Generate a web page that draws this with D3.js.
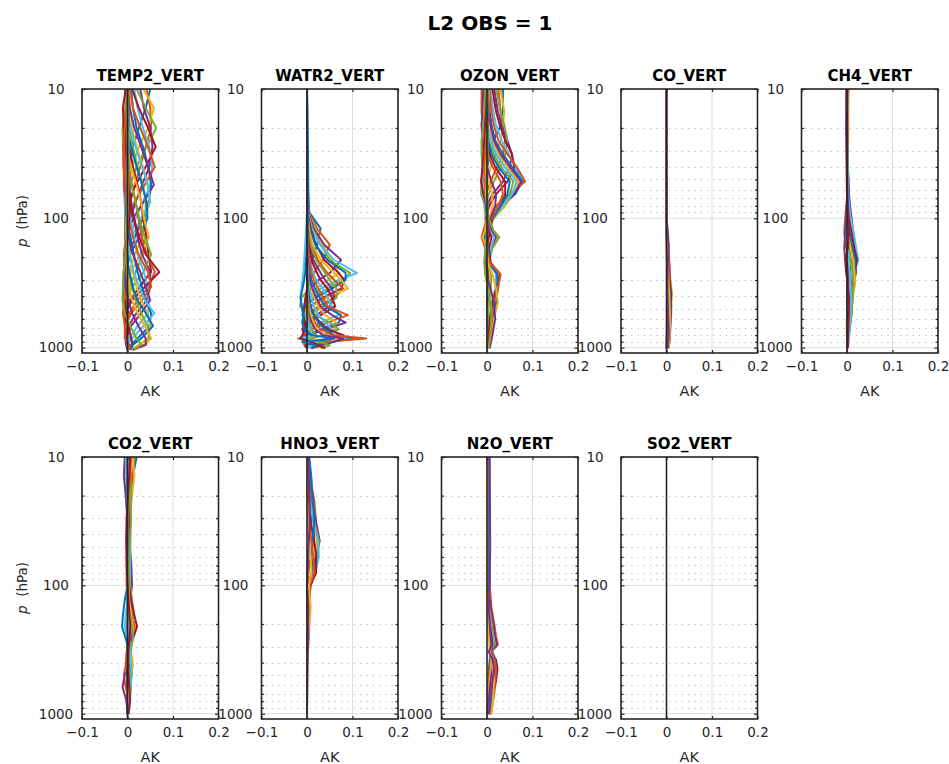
<!DOCTYPE html>
<html><head><meta charset="utf-8">
<script src="https://cdn.jsdelivr.net/npm/d3@7"></script>
<style>
body{margin:0;background:#fff;}
svg{display:block;font-family:"DejaVu Sans",sans-serif;}
</style>
</head><body>
<svg id="c" width="949" height="764"></svg>
<script>
// ---------- chart text / ticks ----------
const mainTitle = "L2 OBS = 1";
const panelNames = ["TEMP2_VERT","WATR2_VERT","OZON_VERT","CO_VERT","CH4_VERT","CO2_VERT","HNO3_VERT","N2O_VERT","SO2_VERT"];
const xTicks = [-0.1, 0, 0.1, 0.2];
const xTickLabels = ["\u22120.1","0","0.1","0.2"];
const yTicks = [10, 100, 1000];
const yMinorTicks = [20,30,40,50,60,70,80,90,200,300,400,500,600,700,800,900];
const xLabel = "AK";
const colorOrder = ["#0072BD","#D95319","#EDB120","#7E2F8E","#77AC30","#4DBEEE","#A2142F"];

// ---------- data: pressure levels (hPa) and kernel values per panel ----------
const tempLevels = [10,14,20,28,40,55,75,100,140,190,260,340,430,540,680,850,950,1040];
const tempKernels = [
 [0.050,0.040,0.025,0.012,0.005,0.001,-0.002,-0.003,-0.002,-0.001,0.000,0.001,0.001,0.000,0.000,0.000,0.000,0.000],
 [0.042,0.050,0.052,0.040,0.028,0.016,0.006,0.000,-0.004,-0.004,-0.002,0,0.001,0.001,0,0,0,0],
 [0.035,0.058,0.045,0.025,0.010,0.002,-0.004,-0.004,-0.002,0.000,0.001,0.001,0.000,0.000,0.000,0.000,0.000,0.000],
 [0.028,0.036,0.050,0.055,0.048,0.032,0.018,0.006,-0.002,-0.005,-0.004,-0.001,0.001,0.001,0,0,0,0],
 [0.020,0.040,0.063,0.042,0.020,0.006,-0.003,-0.005,-0.003,-0.001,0.001,0.002,0.001,0.000,0.000,0.000,0.000,0.000],
 [0.015,0.022,0.034,0.048,0.054,0.050,0.034,0.018,0.006,-0.002,-0.005,-0.003,0,0.001,0,0,0,0],
 [0.010,0.025,0.045,0.062,0.040,0.018,0.003,-0.004,-0.004,-0.002,0.000,0.002,0.001,0.000,0.000,0.000,0.000,0.000],
 [0.008,0.012,0.020,0.034,0.046,0.052,0.046,0.034,0.016,0.004,-0.003,-0.005,-0.002,0,0,0,0,0],
 [0.005,0.012,0.028,0.045,0.060,0.038,0.015,0.000,-0.005,-0.003,0.000,0.001,0.001,0.000,0.000,0.000,0.000,0.000],
 [0.003,0.006,0.010,0.020,0.034,0.044,0.048,0.040,0.032,0.016,0.004,-0.003,-0.004,-0.002,0,0,0,0],
 [0.000,0.005,0.015,0.030,0.045,0.058,0.035,0.012,-0.002,-0.006,-0.002,0.001,0.002,0.001,0.000,0.000,0.000,0.000],
 [0.000,0.000,0.004,0.012,0.022,0.034,0.040,0.040,0.040,0.034,0.018,0.004,-0.004,-0.004,-0.001,0,0,0],
 [-0.003,0.000,0.006,0.018,0.032,0.045,0.050,0.030,0.010,-0.003,-0.006,-0.002,0.001,0.001,0.000,0.000,0.000,0.000],
 [-0.002,-0.004,-0.002,0.004,0.012,0.022,0.030,0.034,0.042,0.046,0.052,0.026,0.006,-0.004,-0.004,-0.001,0,0],
 [-0.005,-0.006,-0.002,0.008,0.020,0.032,0.042,0.044,0.025,0.006,-0.004,-0.005,-0.001,0.001,0.001,0.000,0.000,0.000],
 [0,-0.002,-0.006,-0.004,0.002,0.010,0.018,0.024,0.032,0.042,0.060,0.046,0.022,0.004,-0.004,-0.004,-0.001,0],
 [-0.002,-0.008,-0.010,-0.004,0.008,0.020,0.030,0.036,0.047,0.028,0.008,-0.004,-0.006,-0.002,0.000,0.000,0.000,0.000],
 [0.001,0.001,-0.002,-0.006,-0.004,0.002,0.008,0.014,0.022,0.032,0.050,0.050,0.042,0.020,0.002,-0.004,-0.002,0],
 [0.000,-0.004,-0.011,-0.010,-0.002,0.008,0.018,0.026,0.038,0.052,0.035,0.010,-0.004,-0.005,-0.002,0.000,0.000,0.000],
 [0.002,0.002,0.001,-0.002,-0.005,-0.004,0.000,0.006,0.014,0.022,0.036,0.044,0.046,0.046,0.022,0.004,-0.002,0.001],
 [0.001,0.000,-0.005,-0.009,-0.009,-0.004,0.004,0.014,0.026,0.040,0.070,0.038,0.010,-0.004,-0.005,-0.002,0.000,0.000],
 [0.001,0.002,0.002,0.000,-0.002,-0.004,-0.004,-0.002,0.006,0.014,0.022,0.032,0.040,0.052,0.048,0.022,0.008,0.004],
 [0.002,0.002,0.000,-0.004,-0.008,-0.008,-0.005,0.002,0.012,0.024,0.045,0.052,0.032,0.008,-0.004,-0.005,-0.002,0.000],
 [0,0.001,0.002,0.002,0.000,-0.002,-0.004,-0.004,-0.002,0.006,0.012,0.020,0.030,0.044,0.050,0.045,0.025,0.008],
 [0.001,0.002,0.002,0.000,-0.003,-0.006,-0.006,-0.004,0.002,0.012,0.028,0.040,0.050,0.030,0.008,-0.004,-0.003,0.000],
 [0,0,0.001,0.002,0.002,0,-0.002,-0.004,-0.006,-0.004,0.002,0.010,0.018,0.030,0.044,0.048,0.040,0.010],
 [0.000,0.001,0.002,0.002,0.000,-0.003,-0.005,-0.005,-0.002,0.004,0.014,0.026,0.038,0.059,0.035,0.010,0.000,0.002],
 [-0.004,-0.010,-0.008,-0.004,0,0.004,0.006,0.004,0.000,-0.006,-0.008,-0.010,-0.006,-0.002,0.002,0.008,0.012,0.006],
 [0.000,0.000,0.001,0.002,0.002,0.000,-0.003,-0.004,-0.005,-0.002,0.004,0.012,0.022,0.040,0.056,0.030,0.012,0.005],
 [0.002,-0.002,-0.006,-0.008,-0.006,-0.004,-0.002,-0.002,-0.004,-0.008,-0.006,-0.002,-0.008,-0.010,-0.006,-0.006,0.004,0.004],
 [0.000,0.000,0.000,0.001,0.002,0.002,0.000,-0.002,-0.004,-0.004,-0.002,0.004,0.010,0.022,0.038,0.052,0.035,0.010],
 [0.000,0.000,0.000,0.000,0.001,0.002,0.001,0.000,-0.002,-0.004,-0.006,-0.004,0.002,0.010,0.024,0.040,0.040,0.012],
 [0.000,0.000,0.000,0.000,0.000,0.001,0.001,0.000,-0.001,-0.003,-0.009,-0.010,-0.011,-0.006,0.006,0.020,0.030,0.015]
];

const watrLevels = [10,30,60,90,120,160,210,265,300,350,410,480,560,640,720,800,850,900,960,1010];
const watrKernels = [
 [0,0.001,0.002,0.005,0.030,0.022,0.012,0.005,0.002,0,-0.002,-0.002,0,0,0,0,0,0,0,0],
 [0,0.001,0.002,0.004,0.022,0.050,0.035,0.015,0.006,0.001,-0.003,-0.004,-0.002,0,0,0,0,0,0,0],
 [0,0,0.001,0.003,0.018,0.035,0.055,0.070,0.045,0.020,0.004,-0.006,-0.005,-0.001,0,0,0,0,0,0],
 [0,0.000,0.001,0.003,0.015,0.038,0.075,0.050,0.025,0.008,-0.002,-0.006,-0.004,-0.001,0,0,0,0,0,0],
 [0,0,0,0.002,0.012,0.030,0.050,0.095,0.080,0.045,0.012,-0.004,-0.008,-0.004,0,0,0,0,0,0],
 [0,0,0.001,0.002,0.010,0.028,0.060,0.110,0.070,0.030,0.005,-0.008,-0.006,-0.002,0,0,0,0,0,0],
 [0,0,0,0.001,0.008,0.020,0.038,0.070,0.082,0.075,0.035,0.008,-0.006,-0.008,-0.003,0,0,0,0,0],
 [0,0,0,0.001,0.006,0.018,0.045,0.085,0.085,0.055,0.020,-0.005,-0.010,-0.005,-0.001,0,0,0,0,0],
 [0,0,0,0,0.004,0.010,0.024,0.045,0.060,0.080,0.060,0.025,0.000,-0.008,-0.006,-0.001,0,0,0,0],
 [0,0,0,0.001,0.004,0.012,0.030,0.060,0.075,0.090,0.045,0.010,-0.008,-0.010,-0.004,0,0,0,0,0],
 [0,0,0,0,0.002,0.006,0.014,0.030,0.040,0.055,0.060,0.050,0.020,-0.004,-0.010,-0.004,0,0,0,0],
 [0,0,0,0,0.002,0.008,0.020,0.040,0.050,0.065,0.065,0.035,0.005,-0.010,-0.008,-0.002,0,0,0,0],
 [0,0,0,0,0,0.002,0.006,0.014,0.020,0.035,0.045,0.055,0.070,0.030,0.000,-0.008,-0.006,-0.002,0,0],
 [0,0,0,0,0.001,0.004,0.010,0.022,0.030,0.045,0.055,0.062,0.030,0.002,-0.010,-0.006,-0.002,0,0,0],
 [0,0,0,0,0,0,0.002,0.006,0.010,0.018,0.028,0.040,0.075,0.070,0.030,0.002,-0.008,-0.006,-0.002,0],
 [0,0,0,0,0,0.002,0.005,0.010,0.015,0.025,0.035,0.045,0.090,0.045,0.010,-0.008,-0.010,-0.004,0,0],
 [0,0,0,0,0,0,0.001,0.003,0.005,0.010,0.016,0.025,0.040,0.065,0.060,0.040,0.010,0.000,-0.004,0],
 [0,0,0,0,0,0.001,0.002,0.004,0.006,0.012,0.020,0.030,0.055,0.085,0.040,0.008,-0.006,-0.010,-0.004,0],
 [0,0,0,0,0,0,0,0.002,0.003,0.006,-0.012,-0.015,0.020,0.050,0.070,0.035,0.008,-0.008,-0.006,0],
 [0,0,0,0,0,0,0,0.001,0.002,0.005,0.010,0.015,0.025,0.040,0.055,0.070,0.100,0.030,0.006,0.002],
 [0,0,0,0,0,0,0,0,0.001,0.002,0.004,0.008,0.015,0.030,0.045,0.080,0.050,0.015,-0.004,0.000],
 [0,0,0,0,0,0,0,0,0.001,0.002,0.004,0.008,0.015,0.025,0.040,0.060,0.110,0.050,0.020,0.008],
 [0,0,0,0,0,0,0,0,0,0.001,0.002,0.004,0.008,0.018,0.030,0.055,0.130,0.040,0.010,0.005],
 [0,0,0,0,0,0,0,0,0,0,0.002,0.004,0.008,0.014,0.022,0.040,0.070,0.055,0.040,0.020],
 [0,0,0,0,0,0,0,0,0,0,0.001,0.002,0.004,0.010,0.018,0.035,0.080,0.060,0.030,0.010],
 [0,0,0,0,0,0,0,0,0,0,0,0.001,0.002,0.005,0.010,0.020,-0.020,0.030,0.050,0.030],
 [0,0.001,0.001,0.000,-0.002,-0.004,-0.006,-0.008,-0.010,-0.012,-0.015,-0.010,-0.004,0.002,0.006,0.012,-0.012,0.020,0.010,0.005],
 [0,0,0,0,0,0,0,0,0,0,-0.003,-0.006,-0.008,-0.006,-0.004,-0.010,-0.015,0.010,0.025,0.040],
 [0,0.002,0.003,0.002,0.001,0,-0.002,-0.004,-0.006,-0.010,-0.014,-0.012,-0.008,-0.010,-0.006,0.010,0.060,-0.010,0.020,0.015]
];

const ozonLevels = [10,15,19,25,32,40,52,65,80,100,125,140,170,220,270,350,450,600,800,1010];
const ozonKernels = [
 [0.035,0.035,0.030,0.015,0.006,0.001,-0.003,-0.005,-0.002,0,0.002,0.001,0,0,0,0,0,0,0,0],
 [0.025,0.030,0.034,0.040,0.035,0.022,0.008,-0.002,-0.005,-0.002,0.001,0.002,0.001,0,0,0,0,0,0,0],
 [0.030,0.038,0.035,0.030,0.018,0.008,0.000,-0.006,-0.006,-0.002,0.001,0.002,0,0,0,0,0,0,0,0],
 [0.016,0.024,0.032,0.045,0.055,0.050,0.035,0.012,0.000,-0.003,-0.002,0.001,0.001,0.001,0,0,0,0,0,0],
 [0.020,0.030,0.038,0.045,0.040,0.030,0.015,0.004,-0.004,-0.003,0.000,0.002,0.001,0,0,0,0,0,0,0],
 [0.008,0.014,0.020,0.032,0.048,0.062,0.080,0.055,0.025,0.006,-0.003,-0.003,0.000,0.002,0.001,0,0,0,0,0],
 [0.012,0.020,0.028,0.040,0.055,0.060,0.045,0.020,0.005,-0.002,-0.003,0.000,0.001,0.001,0,0,0,0,0,0],
 [0.002,0.006,0.010,0.018,0.035,0.055,0.078,0.062,0.035,0.012,0.000,-0.004,-0.001,0.002,0.002,0,0,0,0,0],
 [0.005,0.010,0.015,0.025,0.045,0.065,0.084,0.050,0.020,0.003,-0.004,-0.002,0.001,0.002,0.001,0,0,0,0,0],
 [-0.002,0.002,0.005,0.012,0.025,0.044,0.070,0.058,0.040,0.015,0.002,-0.004,-0.003,0.001,0.002,0.001,0,0,0,0],
 [0.000,0.004,0.008,0.015,0.030,0.050,0.075,0.060,0.030,0.008,-0.002,-0.004,0.000,0.002,0.001,0,0,0,0,0],
 [-0.008,-0.005,-0.001,0.005,0.015,0.030,0.058,0.050,0.035,0.014,0.004,-0.002,-0.003,0.000,0.002,0.002,0,0,0,0],
 [-0.005,-0.002,0.002,0.008,0.020,0.038,0.065,0.055,0.035,0.012,0.000,-0.005,-0.002,0.001,0.002,0.001,0,0,0,0],
 [-0.011,-0.010,-0.006,0.000,0.006,0.018,0.040,0.040,0.030,0.012,0.006,0.004,-0.002,-0.002,0.004,0.004,0.002,0.001,0,0],
 [-0.010,-0.008,-0.004,0.002,0.010,0.025,0.050,0.045,0.030,0.010,0.002,-0.003,-0.003,0.000,0.002,0.001,0,0,0,0],
 [-0.012,-0.012,-0.008,-0.004,0.002,0.012,0.030,0.035,0.025,0.010,0.004,0.000,-0.002,-0.001,0.002,0.002,0.001,0,0,0],
 [-0.006,-0.008,-0.010,-0.010,-0.008,-0.004,0.004,0.012,0.012,0.006,0.012,0.022,0.010,0.002,0.006,0.006,0.004,0.002,0.001,0.001],
 [-0.008,-0.010,-0.012,-0.010,-0.006,0.000,0.010,0.020,0.018,0.008,0.010,0.020,0.008,0.000,0.002,0.003,0.002,0.001,0,0],
 [-0.004,-0.006,-0.008,-0.012,-0.012,-0.010,-0.012,-0.013,-0.004,0.004,0.015,0.027,0.012,0.004,0.010,0.008,0.004,0.002,0.001,0.002],
 [0.000,0.000,-0.002,-0.004,-0.006,-0.008,-0.010,-0.010,-0.004,0.000,0.006,0.016,0.008,0.006,0.020,0.018,0.010,0.006,0.003,0.002],
 [0,-0.002,-0.004,-0.006,-0.008,-0.010,-0.013,-0.008,-0.002,0.002,0.004,0.010,0.004,0.008,0.028,0.020,0.012,0.006,0.004,0.003],
 [0.002,0.002,0.001,0.000,-0.002,-0.004,-0.005,-0.004,-0.002,0.000,-0.002,-0.006,0.002,0.004,0.022,0.024,0.020,0.012,0.008,0.004],
 [0.002,0.001,0.000,-0.002,-0.004,-0.006,-0.006,-0.004,0.000,0.000,-0.008,-0.012,-0.004,0.006,0.030,0.024,0.015,0.010,0.006,0.004],
 [0.003,0.003,0.002,0.001,0.000,-0.002,-0.003,-0.002,0.000,0.000,-0.004,-0.010,0.000,0.002,0.012,0.020,0.024,0.015,0.010,0.005],
 [0.001,0.002,0.002,0.002,0.001,0.000,-0.001,0.000,0.001,0.002,0.002,0.000,-0.003,-0.005,-0.002,0.008,0.015,0.018,0.012,0.006],
 [0,0,0.001,0.001,0.001,0.000,0.000,0.000,0.001,0.001,0.000,-0.002,-0.004,-0.006,-0.004,0.002,0.008,0.010,0.008,0.004]
];

const coLevels = [10,100,120,160,220,300,380,480,600,750,900,1010];
const coKernels = [
 [0,0,0.001,0.003,0.004,0.004,0.003,0.002,0.001,0.001,0,0],
 [0,0,0.001,0.004,0.006,0.007,0.006,0.004,0.002,0.001,0.001,0],
 [0,0,0.001,0.002,0.005,0.009,0.012,0.010,0.006,0.004,0.002,0.001],
 [0,0,0.000,0.002,0.006,0.008,0.009,0.007,0.005,0.003,0.002,0.001],
 [0,0,0,0.001,0.004,0.007,0.011,0.009,0.007,0.005,0.003,0.002],
 [0,0,0,0.001,0.002,0.005,0.008,0.011,0.010,0.008,0.005,0.003],
 [0,0,0,0.001,0.003,0.006,0.010,0.010,0.009,0.007,0.005,0.003],
 [0,0,0,0,0.002,0.004,0.008,0.009,0.008,0.008,0.006,0.004],
 [0,0,0.002,0.003,0.005,0.006,0.005,0.004,0.006,0.008,0.007,0.004],
 [0,0,0,0,0.001,0.003,0.006,0.007,0.008,0.007,0.006,0.005],
 [0,0,0.002,0.005,0.003,0.002,0.002,0.003,0.004,0.005,0.004,0.003]
];

const ch4Levels = [10,20,40,70,100,130,170,210,260,320,420,550,700,850,1010];
const ch4Kernels = [
 [0.003,0.002,0.001,0.002,0.004,0.003,0.002,0.001,0,0,0,0,0,0,0],
 [-0.002,-0.001,0.000,0.004,0.008,0.010,0.008,0.004,0.001,0,0,0,0,0,0],
 [0.002,0.003,0.002,0.004,0.006,0.008,0.012,0.016,0.012,0.006,0.002,0.000,-0.001,0,0],
 [0,0.001,0.002,0.005,0.010,0.014,0.016,0.012,0.006,0.002,0,0,0,0,0],
 [0,0,0.001,0.002,0.006,0.012,0.018,0.020,0.014,0.008,0.004,0.002,0.001,0,0],
 [0,0,0.001,0.003,0.008,0.015,0.020,0.025,0.015,0.008,0.003,0.001,0,0,0],
 [0,0,0,0.001,0.004,0.010,0.016,0.022,0.018,0.012,0.006,0.002,0.001,0,0],
 [0,0,0,0.001,0.002,0.006,0.012,0.018,0.020,0.015,0.010,0.006,0.003,0.001,0],
 [0,0,0,0,-0.004,-0.006,-0.002,0.010,0.018,0.016,0.010,0.005,0.002,0.001,0],
 [0,0,0,0,0,0.002,0.008,0.014,0.016,0.018,0.012,0.008,0.004,0.002,0.001],
 [-0.001,-0.002,-0.001,0.000,-0.002,-0.004,-0.006,-0.004,0.004,0.010,0.012,0.010,0.006,0.003,0.001],
 [0,0,0,0,0,0.001,0.004,0.008,0.012,0.014,0.012,0.010,0.006,0.003,0.002],
 [0,0,0,0,0,0,0.002,0.004,0.006,0.008,0.009,0.008,0.006,0.004,0.002],
 [0.001,0,0,0,0.002,0.004,0.002,-0.004,-0.002,0.002,0.004,0.004,0.003,0.002,0.002]
];

const co2Levels = [10,14,20,30,45,65,100,130,170,210,260,330,420,500,620,780,1010];
const co2Kernels = [
 [0.020,0.012,0.006,0.003,0.001,0,0,0,0,0,0,0,0,0,0,0,0],
 [0.016,0.010,0.004,0.002,0.001,0.002,0.004,0.006,0.010,0.016,0.008,0.002,0,0,0,0,0],
 [0.012,0.015,0.010,0.005,0.003,0.002,0.001,0,0,0,0,0,0,0,0,0,0],
 [-0.006,-0.008,-0.004,0.000,0.004,0.008,0.010,0.006,0.002,0,0,0,0,0,0,0,0],
 [0.004,0.006,0.008,0.006,0.003,0.004,0.006,0.010,0.014,0.010,0.004,0.001,0,0,0,0,0],
 [-0.004,-0.002,0.002,0.004,0.006,0.006,0.004,0.000,-0.004,-0.006,0.000,0.006,0.010,0.008,0.004,0.002,0.001],
 [0,0.002,0.004,0.004,0.002,0.001,0.003,0.008,0.015,0.021,0.012,0.004,0.001,0,0,0,0],
 [0,-0.002,-0.002,-0.001,0,0.001,0,-0.006,-0.010,-0.012,-0.004,0.004,0.006,0.004,0.002,0.001,0],
 [0.008,0.006,0.004,0.002,0.000,-0.002,-0.002,0.002,0.008,0.014,0.006,-0.002,-0.004,-0.008,-0.004,0.002,0.002],
 [0,0,0,0,0,0.001,0.002,0.004,0.008,0.012,0.010,0.008,0.012,0.008,0.004,0.002,0.001],
 [0,0,0,0,0,0,0.001,0.002,0.004,0.006,0.008,0.006,0.004,-0.006,-0.011,-0.003,0.001],
 [0.002,0.004,0.006,0.008,0.006,0.004,0.002,0.000,0.006,0.010,0.012,0.006,0.002,0.006,0.008,0.005,0.002],
 [0,0,0,0,0,0,0,0.001,0.002,0.003,0.004,0.006,0.008,0.010,0.006,0.004,0.003],
 [0.006,0.004,0.001,-0.002,-0.003,-0.002,0,0.002,0.004,0.006,0.004,0.002,0.001,0.002,0.004,0.006,0.002]
];

const hno3Levels = [10,15,22,32,45,60,80,100,150,250,400,1010];
const hno3Kernels = [
 [0.005,0.010,0.012,0.010,0.006,0.003,0.001,0,0,0,0,0],
 [0.002,0.008,0.016,0.020,0.015,0.008,0.003,0.001,0,0,0,0],
 [0.003,0.006,0.012,0.018,0.022,0.018,0.012,0.004,0.002,0.001,0,0],
 [0.001,0.004,0.010,0.020,0.028,0.020,0.010,0.003,0.001,0,0,0],
 [0.001,0.003,0.008,0.016,0.026,0.024,0.016,0.005,0.003,0.001,0,0],
 [0,0.002,0.006,0.014,0.024,0.026,0.018,0.006,0.002,0,0,0],
 [0,0.001,0.003,0.008,0.016,0.020,0.020,0.008,0.003,0.001,0,0],
 [0.004,0.008,0.014,0.016,0.012,0.010,0.014,0.004,0.006,0.003,0.001,0],
 [0,0,0.001,0.004,0.010,0.014,0.016,0.006,0.004,0.002,0,0],
 [0,0,0,0.002,0.005,0.008,0.010,0.004,0.008,0.004,0.001,0],
 [0.003,0.004,0.006,0.006,0.004,0.002,0.001,0.000,0.002,0.003,0.001,0]
];

const n2oLevels = [10,50,100,150,200,250,290,330,380,450,550,700,850,1010];
const n2oKernels = [
 [0.002,0.003,0.004,0.006,0.008,0.010,0.012,0.008,0.006,0.004,0.003,0.002,0.001,0],
 [0.004,0.006,0.006,0.010,0.016,0.020,0.024,0.010,0.008,0.006,0.004,0.003,0.002,0.001],
 [0.003,0.004,0.005,0.007,0.012,0.016,0.020,0.009,0.010,0.009,0.006,0.004,0.002,0.001],
 [0.001,0.002,0.003,0.008,0.014,0.018,0.022,0.006,0.014,0.012,0.008,0.005,0.003,0.002],
 [0,0.001,0.002,0.005,0.010,0.014,0.016,0.007,0.018,0.022,0.016,0.010,0.006,0.004],
 [0,0.001,0.002,0.004,0.008,0.012,0.014,0.008,0.016,0.021,0.019,0.012,0.008,0.005],
 [0,0,0.001,0.003,0.006,0.010,0.012,0.008,0.020,0.023,0.020,0.014,0.010,0.006],
 [0.001,0.002,0.002,0.003,0.005,0.008,0.010,0.012,0.018,0.020,0.014,0.012,0.010,0.007],
 [0,0,0,0.002,0.004,0.006,0.008,0.010,0.016,0.020,0.018,0.016,0.012,0.008],
 [0,0,0,0.001,0.002,0.004,0.005,0.006,0.010,0.014,0.015,0.014,0.012,0.010],
 [0.006,0.007,0.006,0.004,0.006,0.008,0.010,0.004,0.012,0.016,0.012,0.008,0.006,0.004]
];

const so2Levels = [10,1010];
const so2Kernels = [];

// ---------- build ----------
const panelData = [
 {levels: tempLevels, kernels: tempKernels},
 {levels: watrLevels, kernels: watrKernels},
 {levels: ozonLevels, kernels: ozonKernels},
 {levels: coLevels, kernels: coKernels},
 {levels: ch4Levels, kernels: ch4Kernels},
 {levels: co2Levels, kernels: co2Kernels},
 {levels: hno3Levels, kernels: hno3Kernels},
 {levels: n2oLevels, kernels: n2oKernels},
 {levels: so2Levels, kernels: so2Kernels}
];

const svg = d3.select("#c");
const ink = "#262626";
const colLefts = [82, 261.5, 441.5, 621, 801.5];
const panelW = 136.5;
const rowTops = [89, 457];
const rowBottoms = [353, 719];

svg.append("text").attr("x", 490).attr("y", 30).attr("text-anchor","middle")
  .attr("font-size", 20).attr("font-weight","bold").attr("fill", "#000").text(mainTitle);

panelNames.forEach((name, i) => {
  const row = Math.floor(i / 5), col = i % 5;
  const L = colLefts[col], R = L + panelW, T = rowTops[row], B = rowBottoms[row];
  const x = d3.scaleLinear().domain([-0.1, 0.2]).range([L, R]);
  const y = d3.scaleLog().domain([10, 1100]).range([T, B]);
  const g = svg.append("g");

  const clipId = "clip" + i;
  svg.append("clipPath").attr("id", clipId).append("rect")
    .attr("x", L).attr("y", T).attr("width", R - L).attr("height", B - T);

  // grid
  g.selectAll(".ymaj").data(yTicks).join("line")
    .attr("x1", L).attr("x2", R).attr("y1", d => y(d)).attr("y2", d => y(d))
    .attr("stroke", "#dedede").attr("stroke-width", 1);
  g.selectAll(".ymin").data(yMinorTicks).join("line")
    .attr("x1", L + 4).attr("x2", R - 2).attr("y1", d => Math.round(y(d)) + 0.5).attr("y2", d => Math.round(y(d)) + 0.5)
    .attr("stroke", "#b8b8b8").attr("stroke-width", 1.1).attr("stroke-dasharray", "1.2,5.1");
  g.selectAll(".xmaj").data(xTicks).join("line")
    .attr("x1", d => x(d)).attr("x2", d => x(d)).attr("y1", T).attr("y2", B)
    .attr("stroke", "#dedede").attr("stroke-width", 1);

  // kernel lines
  const pd = panelData[i];
  const line = d3.line().x(v => x(v[0])).y(v => y(v[1]));
  g.append("g").attr("clip-path", `url(#${clipId})`)
    .selectAll("path").data(pd.kernels).join("path")
    .attr("d", k => line(k.map((v, j) => [v, pd.levels[j]])))
    .attr("fill", "none")
    .attr("stroke", (k, j) => colorOrder[j % colorOrder.length])
    .attr("stroke-width", 2).attr("stroke-linejoin", "round");

  // zero line
  g.append("line").attr("x1", x(0)).attr("x2", x(0)).attr("y1", T).attr("y2", B)
    .attr("stroke", ink).attr("stroke-width", 1.6);

  // axes with inward ticks
  const axB = g.append("g").attr("transform", `translate(0,${B})`)
    .call(d3.axisBottom(x).tickValues(xTicks).tickSize(-3).tickPadding(8).tickFormat((d, j) => xTickLabels[j]));
  const axT = g.append("g").attr("transform", `translate(0,${T})`)
    .call(d3.axisTop(x).tickValues(xTicks).tickSize(-3).tickFormat(""));
  const axL = g.append("g").attr("transform", `translate(${L},0)`)
    .call(d3.axisLeft(y).tickValues(yTicks).tickSize(-3.5).tickPadding(14).tickFormat(d3.format("d")));
  const axR = g.append("g").attr("transform", `translate(${R},0)`)
    .call(d3.axisRight(y).tickValues(yTicks).tickSize(-3.5).tickFormat(""));
  const axLm = g.append("g").attr("transform", `translate(${L},0)`)
    .call(d3.axisLeft(y).tickValues(yMinorTicks).tickSize(-2.5).tickFormat(""));
  const axRm = g.append("g").attr("transform", `translate(${R},0)`)
    .call(d3.axisRight(y).tickValues(yMinorTicks).tickSize(-2.5).tickFormat(""));
  [axB, axT, axL, axR, axLm, axRm].forEach(a => {
    a.select(".domain").remove();
    a.selectAll("line").attr("stroke", ink).attr("stroke-width", 1.2);
    a.selectAll("text").attr("fill", ink).attr("font-size", 13.5)
      .attr("font-family", '"DejaVu Sans",sans-serif');
  });
  axB.selectAll("text").attr("dy", "0.71em");
  axL.selectAll("text").attr("text-anchor", "middle").attr("x", -26);

  // box
  g.append("rect").attr("x", L).attr("y", T).attr("width", R - L).attr("height", B - T)
    .attr("fill", "none").attr("stroke", ink).attr("stroke-width", 1.6);

  // titles
  g.append("text").attr("x", (L + R) / 2).attr("y", T - 8).attr("text-anchor", "middle")
    .attr("font-size", 15).attr("font-weight", "bold").attr("fill", "#000").text(name);
  g.append("text").attr("x", (L + R) / 2).attr("y", B + 43).attr("text-anchor", "middle")
    .attr("font-size", 14.5).attr("fill", ink).text(xLabel);

  if (col === 0) {
    const t = g.append("text").attr("transform", `translate(27,${(T + B) / 2}) rotate(-90)`)
      .attr("text-anchor", "middle").attr("font-size", 13.5).attr("fill", ink);
    t.append("tspan").attr("font-style", "italic").text("p");
    t.append("tspan").text("\u00a0 (hPa)");
  }
});
</script>
</body></html>
